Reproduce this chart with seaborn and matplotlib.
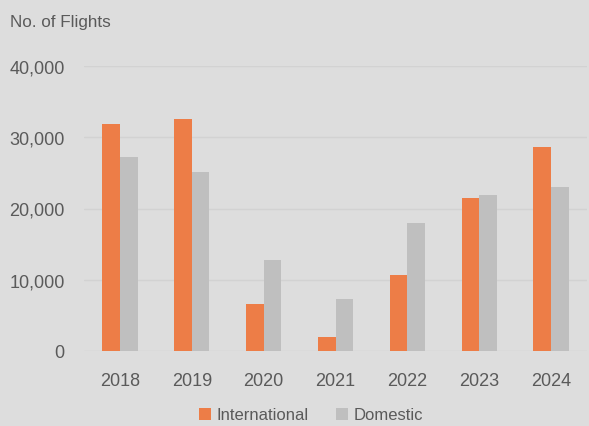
import matplotlib
matplotlib.use("Agg")
import matplotlib.pyplot as plt
from matplotlib.patches import Patch
import seaborn as sns
import pandas as pd

years = ["2018", "2019", "2020", "2021", "2022", "2023", "2024"]
international = [31900, 32600, 6600, 1950, 10650, 21500, 28600]
domestic = [27200, 25100, 12750, 7300, 17950, 21900, 23000]
series_names = ["International", "Domestic"]
yticks = [0, 10000, 20000, 30000, 40000]
ytick_labels = ["0", "10,000", "20,000", "30,000", "40,000"]

df = pd.DataFrame({
    "Year": years * 2,
    "Flights": international + domestic,
    "Type": [series_names[0]] * len(years) + [series_names[1]] * len(years),
})

sns.set_theme(style="white")
plt.rcParams["font.family"] = ["Liberation Sans", "DejaVu Sans"]

bg = "#dddddd"
txt = "#5a5a5a"
colors = {"International": "#ed7d47", "Domestic": "#bfbfbf"}

fig = plt.figure(figsize=(5.89, 4.27), dpi=100, facecolor=bg)
ax = fig.add_axes([84 / 589, (427 - 352) / 427, (587 - 84) / 589, (352 - 67) / 427])
ax.set_facecolor(bg)

sns.barplot(data=df, x="Year", y="Flights", hue="Type", palette=colors,
            width=0.49, gap=0, ax=ax, legend=False, saturation=1,
            edgecolor="none", linewidth=0)

ax.set_ylim(0, 40000)
ax.set_xlim(-0.5, 6.5)
ax.set_yticks(yticks)
ax.set_yticklabels(ytick_labels)
ax.yaxis.grid(True, color="#d2d2d2", linewidth=1)
ax.set_axisbelow(True)
for s in ax.spines.values():
    s.set_visible(False)
ax.tick_params(axis="both", length=0, labelsize=13, labelcolor=txt)
ax.tick_params(axis="y", pad=14)
ax.tick_params(axis="x", pad=15)
ax.set_xlabel("")
ax.set_ylabel("")

fig.text(10 / 589, 1 - 23 / 427, "No. of Flights", fontsize=12.3, color=txt,
         ha="left", va="center")

handles = [Patch(facecolor=colors[n], edgecolor="none", label=n) for n in series_names]
fig.legend(handles=handles, loc="center", bbox_to_anchor=(311 / 589, 11 / 427),
           ncol=2, frameon=False, fontsize=12, labelcolor=txt,
           handlelength=0.75, handleheight=0.75, handletextpad=0.35, columnspacing=1.6,
           borderpad=0.1)

fig.savefig("out.png", dpi=100, facecolor=bg)
